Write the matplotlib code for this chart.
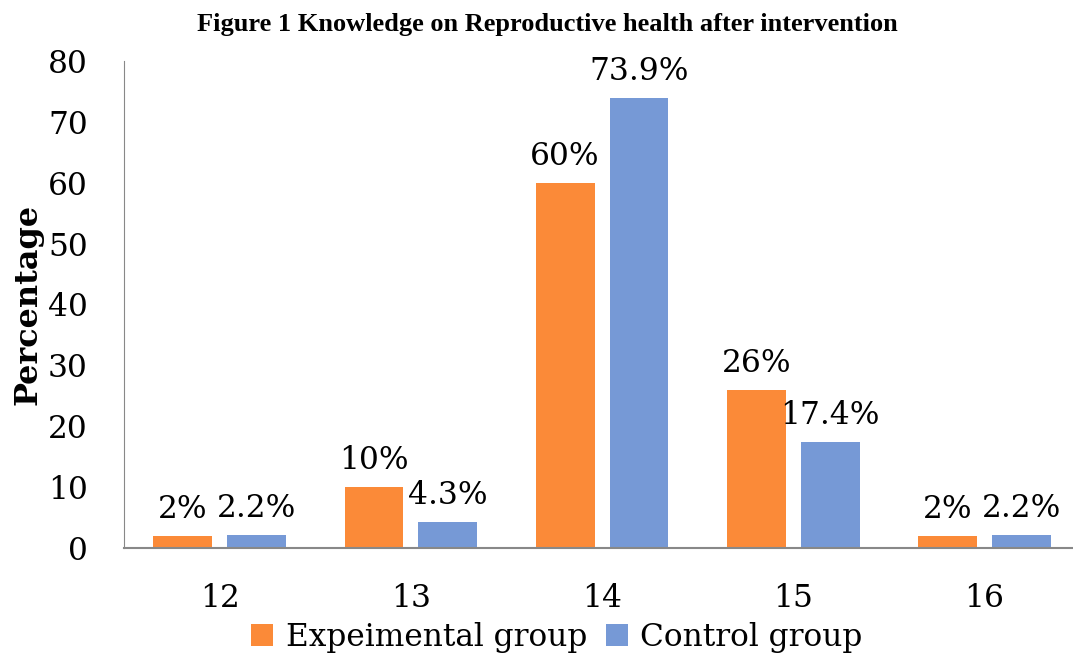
import matplotlib
matplotlib.use("Agg")
import matplotlib.pyplot as plt
import numpy as np

categories = ["12", "13", "14", "15", "16"]
experimental = [2, 10, 60, 26, 2]
control = [2.2, 4.3, 73.9, 17.4, 2.2]
exp_labels = ["2%", "10%", "60%", "26%", "2%"]
ctl_labels = ["2.2%", "4.3%", "73.9%", "17.4%", "2.2%"]
yticks = [0, 10, 20, 30, 40, 50, 60, 70, 80]

orange = "#FB8A38"
blue = "#7699D6"
serif = ["DejaVu Serif"]
fs = 22.5

fig = plt.figure(figsize=(10.73, 6.55), dpi=100)
ax = fig.add_axes([0.1156, 0.1634, 0.891, 0.7435])

x = np.arange(len(categories))
w = 0.308
off = 0.193
ax.bar(x - off, experimental, w, color=orange, label="Expeimental group")
ax.bar(x + off, control, w, color=blue, label="Control group")

for xi, v, t in zip(x, experimental, exp_labels):
    ax.text(xi - off, v + 1.8, t, ha="center", va="bottom", fontsize=fs, family=serif)
for xi, v, t in zip(x, control, ctl_labels):
    ax.text(xi + off, v + 1.8, t, ha="center", va="bottom", fontsize=fs, family=serif)

ax.set_xlim(-0.5, len(categories) - 0.5)
ax.set_ylim(0, 80)
ax.set_yticks(yticks)
ax.set_xticks(x)
ax.set_xticklabels(categories)
for lab in ax.get_xticklabels() + ax.get_yticklabels():
    lab.set_family(serif)
    lab.set_fontsize(fs)
ax.tick_params(axis="both", length=0)
ax.tick_params(axis="x", pad=25)
ax.tick_params(axis="y", pad=26)

for s in ["top", "right"]:
    ax.spines[s].set_visible(False)
ax.spines["left"].set_color("#888888")
ax.spines["bottom"].set_color("#888888")
ax.spines["bottom"].set_linewidth(1.5)

ax.set_ylabel("Percentage", fontsize=23, fontweight="bold", family=serif)
ax.yaxis.set_label_coords(-0.084, 0.5)

fig.text(0.51, 0.962, "Figure 1 Knowledge on Reproductive health after intervention",
         ha="center", va="center", fontsize=19, fontweight="bold", family=["Liberation Serif"])

leg = fig.legend(loc="center", bbox_to_anchor=(0.519, 0.027), ncol=2, frameon=False,
                 prop={"family": serif, "size": fs}, handlelength=0.7, handleheight=0.7,
                 handletextpad=0.4, columnspacing=0.6)

fig.savefig("out.png", dpi=100)
